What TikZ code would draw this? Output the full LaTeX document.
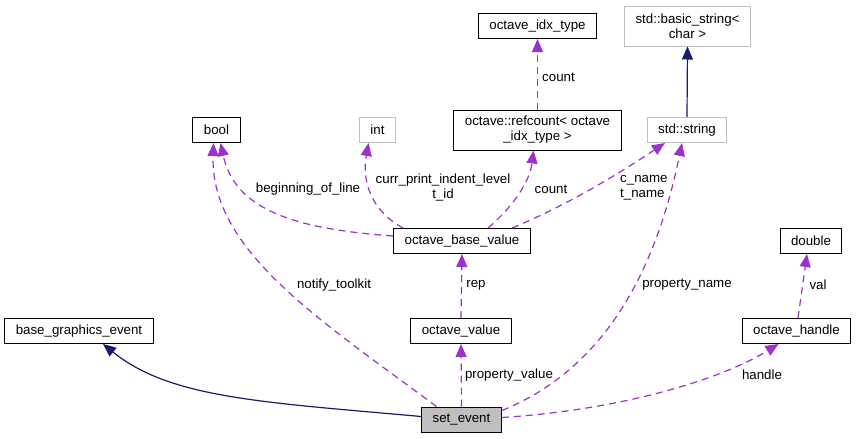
\documentclass[tikz,border=0pt]{standalone}
\usepackage{fontspec}
\setmainfont{Liberation Sans}
\usetikzlibrary{arrows.meta, positioning}
\definecolor{edgepurple}{HTML}{9A32CD}
\definecolor{edgenavy}{HTML}{191970}
\definecolor{boxgray}{HTML}{BFBFBF}

\begin{document}
\begin{tikzpicture}[
    x=1pt, y=-1pt,
    font=\fontsize{13.3}{15}\selectfont,
    classbox/.style={draw=black, line width=1pt, minimum height=25pt,
        inner xsep=11pt, inner ysep=2pt, align=center}, % Documented class
    extbox/.style={classbox, draw=boxgray}, % External type
    usage/.style={edgepurple, line width=1.2pt, dash pattern=on 7pt off 5pt,
        -{Triangle[length=13pt, width=11pt]}}, % Member relation
    inherit/.style={edgenavy, line width=1.2pt,
        -{Triangle[length=13pt, width=11pt]}}, % Base class
    edgelabel/.style={inner sep=0pt, align=center}
]
    \useasboundingbox (0,0) rectangle (857,439);

    % Classes
    \node (bge)   [classbox] at (79,331)    {base\_graphics\_event};
    \node (setev) [classbox, fill=boxgray] at (461.5,419.5) {set\_event};
    \node (bool)  [classbox] at (216.5,130) {bool};
    \node (int)   [extbox] at (377.5,130)   {int};
    \node (idx)   [classbox] at (537.5,26)  {octave\_idx\_type};
    \node (refc)  [classbox, minimum height=40pt] at (537.5,130)
        {octave::refcount< octave\\\_idx\_type >};
    \node (bstr)  [extbox, minimum height=40pt] at (687.5,26)
        {std::basic\_string<\\char >};
    \node (stds)  [extbox] at (687,130)     {std::string};
    \node (obv)   [classbox] at (462,241)   {octave\_base\_value};
    \node (oval)  [classbox] at (461,331)   {octave\_value};
    \node (dbl)   [classbox] at (811,241)   {double};
    \node (oh)    [classbox] at (796.5,331) {octave\_handle};

    % Inheritance
    \draw[inherit] ([yshift=3pt]setev.west) .. controls (260,402) and (170,398) .. ([xshift=24pt]bge.south);
    \draw[inherit] (stds.north) -- (bstr.south);

    % Members
    \draw[usage] (refc.north) -- (idx.south);
    \draw[usage] ([xshift=-25pt]setev.north) .. controls (320,320) and (210,250) .. ([xshift=-3pt]bool.south);
    \draw[usage] ([yshift=5pt]obv.west) .. controls (295,229) and (235,210) .. ([xshift=4pt]bool.south);
    \draw[usage] ([xshift=-59pt]obv.north) .. controls (370,210) and (362,180) .. ([xshift=-9pt]int.south);
    \draw[usage] ([xshift=26pt]obv.north) .. controls (515,205) and (530,180) .. ([xshift=-4pt]refc.south);
    \draw[usage] ([xshift=50pt]obv.north) .. controls (565,206) and (612,178) .. ([xshift=-22pt]stds.south);
    \draw[usage] ([yshift=9pt]setev.east) .. controls (585,377) and (650,300) .. ([xshift=-5pt]stds.south);
    \draw[usage] ([yshift=2pt]setev.east) .. controls (620,410) and (720,380) .. ([xshift=-18pt]oh.south);
    \draw[usage] (oval.north) -- (obv.south);
    \draw[usage] (setev.north) -- (oval.south);
    \draw[usage] ([xshift=1.5pt]oh.north) -- ([xshift=-4pt]dbl.south);

    % Edge labels
    \node (lcount1) [edgelabel, anchor=west] at (542,77) {count};
    \node (lbegin)  [edgelabel] at (308,189) {beginning\_of\_line};
    \node (lcurr)   [edgelabel] at (443,188) {curr\_print\_indent\_level\\t\_id};
    \node (lcount2) [edgelabel] at (551,189) {count};
    \node (lcname)  [edgelabel, align=left, anchor=west] at (620,188) {c\_name\\t\_name};
    \node (lnotify) [edgelabel] at (334,285) {notify\_toolkit};
    \node (lrep)    [edgelabel] at (476,285) {rep};
    \node (lpname)  [edgelabel] at (687,285) {property\_name};
    \node (lval)    [edgelabel] at (818,285) {val};
    \node (lpvalue) [edgelabel] at (509,375) {property\_value};
    \node (lhandle) [edgelabel] at (762,375) {handle};

\end{tikzpicture}
\end{document}
